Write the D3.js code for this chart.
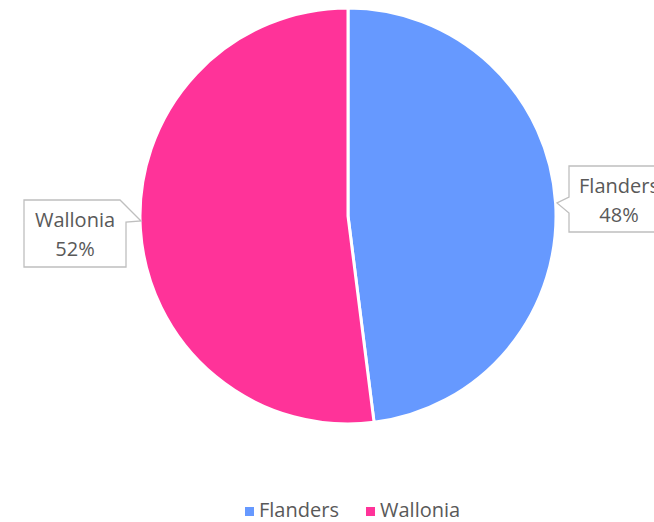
<!DOCTYPE html>
<html>
<head>
<meta charset="utf-8">
<script src="https://cdn.jsdelivr.net/npm/d3@7"></script>
<style>
  body { margin: 0; background: #fff; }
  text { font-family: "Open Sans", "Noto Sans", sans-serif; fill: #595959; }
</style>
</head>
<body>
<svg class="chart"></svg>
<script>
const categories = ["Flanders", "Wallonia"];
const values = [48, 52];
const colors = ["#6699FF", "#FF3399"];

const width = 654, height = 522;
const svg = d3.select(".chart").attr("width", width).attr("height", height);

const cx = 348, cy = 216, radius = 208;
const total = d3.sum(values);

const pie = d3.pie().sort(null).value(d => d.value);
const arc = d3.arc().innerRadius(0).outerRadius(radius);
const data = categories.map((c, i) => ({ name: c, value: values[i], color: colors[i] }));
const arcs = pie(data);

const g = svg.append("g").attr("transform", `translate(${cx},${cy})`);
g.selectAll("path")
  .data(arcs)
  .enter().append("path")
  .attr("d", arc)
  .attr("fill", d => d.data.color)
  .attr("stroke", "white")
  .attr("stroke-width", 3)
  .attr("stroke-linejoin", "round");

// callout boxes (box rect + pointer tip), one per slice
const callouts = [
  { box: [569, 166, 100, 66], tip: [557, 203], side: "left" },
  { box: [24, 200, 102, 67], tip: [141, 221], side: "right" }
];

arcs.forEach((a, i) => {
  let c = callouts[i];
  let [x, y, w, h] = c.box;
  let pts;
  if (c.side === "left") {
    pts = [[x, y], [x + w, y], [x + w, y + h], [x, y + h], [x, 213], c.tip, [x, 197]];
  } else {
    pts = [[x, y], [x + w - 6, y], c.tip, [x + w, 222], [x + w, y + h], [x, y + h]];
  }
  svg.append("path")
    .attr("d", d3.line()(pts) + "Z")
    .attr("fill", "white")
    .attr("stroke", "#BFBFBF")
    .attr("stroke-width", 1.3);
  let tx = c.side === "left" ? 619 : x + w / 2;
  svg.append("text")
    .attr("x", tx).attr("y", y + 27)
    .attr("text-anchor", "middle")
    .attr("font-size", 20)
    .text(a.data.name);
  svg.append("text")
    .attr("x", tx).attr("y", y + 56)
    .attr("text-anchor", "middle")
    .attr("font-size", 20)
    .text(Math.round(a.data.value / total * 100) + "%");
});

// legend
const legendX = [245, 366];
const legend = svg.append("g");
data.forEach((d, i) => {
  legend.append("rect")
    .attr("x", legendX[i]).attr("y", 507)
    .attr("width", 9).attr("height", 9)
    .attr("fill", d.color);
  legend.append("text")
    .attr("x", legendX[i] + 14).attr("y", 517)
    .attr("font-size", 20)
    .text(d.name);
});
</script>
</body>
</html>
